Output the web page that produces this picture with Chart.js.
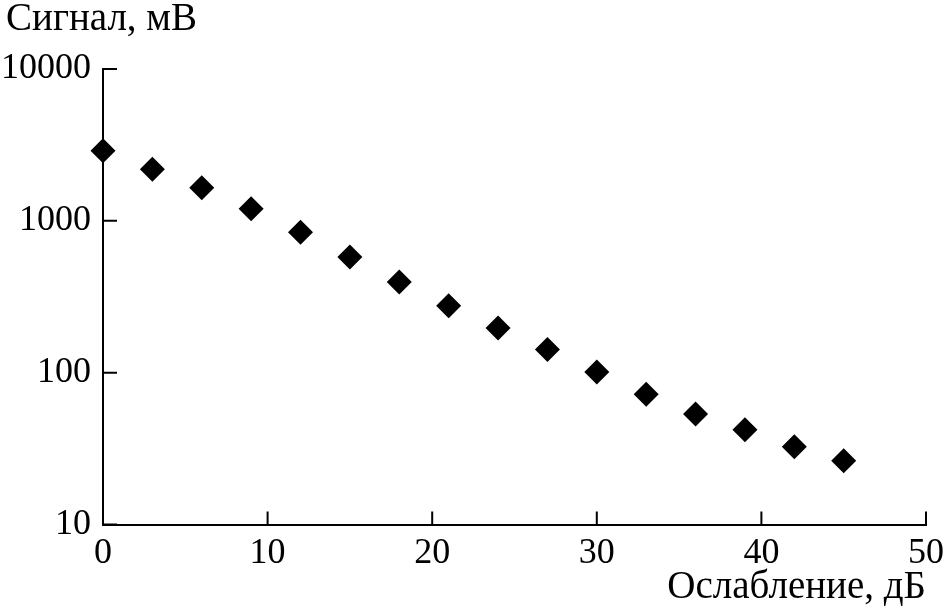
<!DOCTYPE html>
<html>
<head>
<meta charset="utf-8">
<script src="https://cdn.jsdelivr.net/npm/chart.js@4"></script>
<style>
html, body { margin: 0; padding: 0; background: #fff; }
#wrap { width: 946px; height: 608px; }
</style>
</head>
<body>
<div id="wrap"><canvas id="myChart"></canvas></div>
<script>
let attenuation = [0, 3, 6, 9, 12, 15, 18, 21, 24, 27, 30, 33, 36, 39, 42, 45];
let signal = [2900, 2190, 1650, 1200, 840, 578, 395, 276, 197, 142, 101, 72, 53.4, 42, 32.5, 26.3];
let xTicks = [0, 10, 20, 30, 40, 50];
let yTicks = [10, 100, 1000, 10000];
let yTitle = 'Сигнал, мВ';
let xTitle = 'Ослабление, дБ';

let serif = '"Liberation Serif", "Times New Roman", serif';
let points = attenuation.map((x, i) => ({ x: x, y: signal[i] }));

// ticks in the reference point inward, so draw them from the scales here
let innerTicks = {
    id: 'innerTicks',
    beforeDatasetsDraw(chart) {
        let c = chart.ctx;
        let sx = chart.scales.x, sy = chart.scales.y, a = chart.chartArea;
        c.save();
        c.strokeStyle = '#000';
        c.lineWidth = 2;
        c.beginPath();
        xTicks.forEach(v => {
            let px = sx.getPixelForValue(v);
            c.moveTo(px, a.bottom);
            c.lineTo(px, a.bottom - 13);
        });
        yTicks.forEach(v => {
            let py = sy.getPixelForValue(v);
            c.moveTo(a.left, py);
            c.lineTo(a.left + 14, py);
        });
        c.stroke();
        c.fillStyle = '#000';
        c.font = '39px ' + serif;
        c.textBaseline = 'alphabetic';
        c.textAlign = 'left';
        c.fillText(yTitle, 6, 30);
        c.restore();
    }
};

let ctx = document.getElementById('myChart').getContext('2d');

let myChart = new Chart(ctx, {
    type: 'scatter',
    data: {
        datasets: [{
            data: points,
            pointStyle: 'rectRot',
            pointRadius: 12.5,
            pointHoverRadius: 12.5,
            backgroundColor: '#000',
            borderColor: '#000',
            borderWidth: 0,
            clip: false
        }]
    },
    options: {
        responsive: true,
        maintainAspectRatio: false,
        animation: false,
        layout: {
            padding: { top: 69, right: 20, bottom: 0, left: 0 }
        },
        scales: {
            x: {
                type: 'linear',
                min: 0,
                max: 50,
                afterBuildTicks: s => { s.ticks = xTicks.map(v => ({ value: v })); },
                afterFit: s => {
                    s.height = 83.5;
                    s.paddingLeft = 0;
                    s.paddingRight = 0;
                },
                grid: { display: true, drawOnChartArea: false, drawTicks: false },
                border: { display: true, color: '#000', width: 2 },
                ticks: {
                    color: '#000',
                    padding: 7,
                    maxRotation: 0,
                    font: { family: serif, size: 36 }
                },
                title: {
                    display: true,
                    text: xTitle,
                    align: 'end',
                    color: '#000',
                    padding: { top: 0, bottom: -3 },
                    font: { family: serif, size: 39 }
                }
            },
            y: {
                type: 'logarithmic',
                min: 10,
                max: 10000,
                afterBuildTicks: s => { s.ticks = yTicks.map(v => ({ value: v })); },
                afterFit: s => { s.width = 103; },
                grid: { display: true, drawOnChartArea: false, drawTicks: false },
                border: { display: true, color: '#000', width: 2 },
                ticks: {
                    color: '#000',
                    padding: 12,
                    callback: v => String(v),
                    font: { family: serif, size: 36 }
                }
            }
        },
        plugins: {
            legend: { display: false },
            tooltip: { enabled: false }
        }
    },
    plugins: [innerTicks]
});
</script>
</body>
</html>
